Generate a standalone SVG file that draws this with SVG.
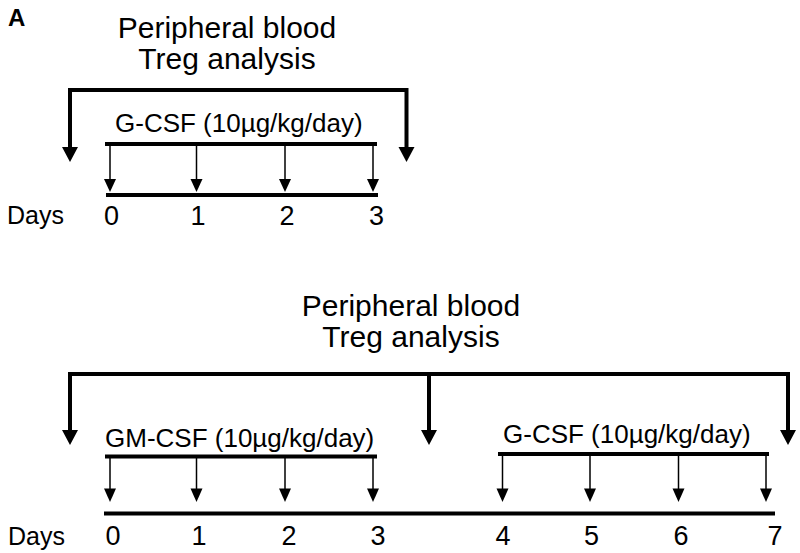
<svg xmlns="http://www.w3.org/2000/svg" width="800" height="553" viewBox="0 0 800 553">
  <defs>
    <style>
      text { font-family: "Liberation Sans", Arial, sans-serif; fill: #000; }
      .label { font-size: 24px; font-weight: bold; }
      .title { font-size: 30px; text-anchor: middle; }
      .drug { font-size: 26px; }
      .days { font-size: 25px; }
      .num { font-size: 27px; text-anchor: middle; }
      .thick { stroke: #000; stroke-width: 4; fill: none; }
      .bar { stroke: #000; stroke-width: 4; fill: none; }
      .thin { stroke: #000; stroke-width: 1.5; fill: none; }
      .head { fill: #000; stroke: none; }
    </style>
  </defs>
  <rect width="800" height="553" fill="#fff"/>

  <g id="panel-label">
    <text class="label" x="8" y="26">A</text>
  </g>

  <!-- Top panel -->
  <g id="top-title">
    <text class="title" x="227" y="38">Peripheral blood</text>
    <text class="title" x="227" y="69">Treg analysis</text>
  </g>
  <g id="top-treatment">
    <text class="drug" x="115" y="132">G-CSF (10µg/kg/day)</text>
    <line class="bar" x1="105" y1="144" x2="377" y2="144"/>
  </g>
  <g id="top-timeline">
    <line class="bar" x1="106" y1="195" x2="378" y2="195"/>
    <text class="days" x="7" y="224">Days</text>
    <text class="num" x="111.5" y="225">0</text>
    <text class="num" x="198" y="225">1</text>
    <text class="num" x="287" y="225">2</text>
    <text class="num" x="376.5" y="225">3</text>
  </g>

  <!-- Bottom panel -->
  <g id="bottom-title">
    <text class="title" x="411" y="316">Peripheral blood</text>
    <text class="title" x="411" y="347">Treg analysis</text>
  </g>
  <g id="bottom-treatment-gm">
    <text class="drug" x="105" y="447">GM-CSF (10µg/kg/day)</text>
    <line class="bar" x1="105" y1="456.5" x2="377" y2="456.5"/>
  </g>
  <g id="bottom-treatment-g">
    <text class="drug" x="503" y="443">G-CSF (10µg/kg/day)</text>
    <line class="bar" x1="498" y1="454" x2="769" y2="454"/>
  </g>
  <g id="bottom-timeline">
    <line class="bar" x1="104" y1="513.5" x2="775" y2="513.5"/>
    <text class="days" x="8" y="545">Days</text>
    <text class="num" x="113" y="545">0</text>
    <text class="num" x="199" y="545">1</text>
    <text class="num" x="289" y="545">2</text>
    <text class="num" x="378" y="545">3</text>
    <text class="num" x="503" y="545">4</text>
    <text class="num" x="591.5" y="545">5</text>
    <text class="num" x="681" y="545">6</text>
    <text class="num" x="775" y="545">7</text>
  </g>

  <g id="connectors">
    <!-- top bracket -->
    <path class="thick" d="M70,148 V90 H406.5 V148"/>
    <polygon class="head" points="62,147 78,147 70,162"/>
    <polygon class="head" points="398.5,147 414.5,147 406.5,162"/>
    <!-- top daily arrows -->
    <line class="thin" x1="110" y1="144" x2="110" y2="181"/>
    <polygon class="head" points="104,179 116,179 110,192"/>
    <line class="thin" x1="196.5" y1="144" x2="196.5" y2="181"/>
    <polygon class="head" points="190.5,179 202.5,179 196.5,192"/>
    <line class="thin" x1="285" y1="144" x2="285" y2="181"/>
    <polygon class="head" points="279,179 291,179 285,192"/>
    <line class="thin" x1="373" y1="144" x2="373" y2="181"/>
    <polygon class="head" points="367,179 379,179 373,192"/>

    <!-- bottom bracket -->
    <path class="thick" d="M70,431 V374 H788 V431"/>
    <line class="thick" x1="429" y1="374" x2="429" y2="431"/>
    <polygon class="head" points="62,430 78,430 70,445"/>
    <polygon class="head" points="421,430 437,430 429,445"/>
    <polygon class="head" points="780,430 796,430 788,445"/>
    <!-- bottom daily arrows -->
    <line class="thin" x1="110" y1="456.5" x2="110" y2="490"/>
    <polygon class="head" points="104,488.5 116,488.5 110,502"/>
    <line class="thin" x1="196.5" y1="456.5" x2="196.5" y2="490"/>
    <polygon class="head" points="190.5,488.5 202.5,488.5 196.5,502"/>
    <line class="thin" x1="285" y1="456.5" x2="285" y2="490"/>
    <polygon class="head" points="279,488.5 291,488.5 285,502"/>
    <line class="thin" x1="373" y1="456.5" x2="373" y2="490"/>
    <polygon class="head" points="367,488.5 379,488.5 373,502"/>
    <line class="thin" x1="502.5" y1="454" x2="502.5" y2="490"/>
    <polygon class="head" points="496.5,488.5 508.5,488.5 502.5,502"/>
    <line class="thin" x1="590" y1="454" x2="590" y2="490"/>
    <polygon class="head" points="584,488.5 596,488.5 590,502"/>
    <line class="thin" x1="678.5" y1="454" x2="678.5" y2="490"/>
    <polygon class="head" points="672.5,488.5 684.5,488.5 678.5,502"/>
    <line class="thin" x1="766" y1="454" x2="766" y2="490"/>
    <polygon class="head" points="760,488.5 772,488.5 766,502"/>
  </g>
</svg>
